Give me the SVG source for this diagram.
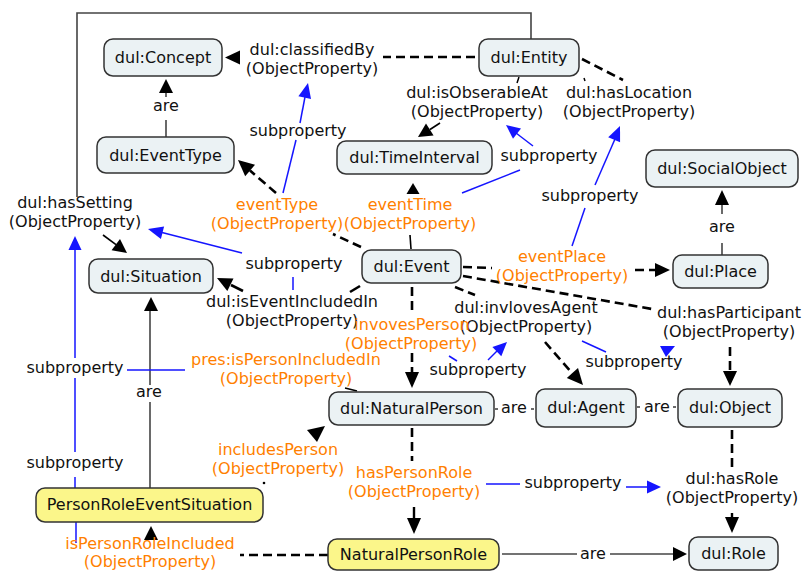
<svg xmlns="http://www.w3.org/2000/svg" width="803" height="571" viewBox="0 0 803 571">
<style>
text{font-family:"DejaVu Sans","Verdana",sans-serif;font-size:16px;fill:#111;text-anchor:middle}
.o{fill:#ff7f00}
.n rect{fill:#ebf2f4;stroke:#333;stroke-width:1.5}
.y rect{fill:#fbf68a;stroke:#333;stroke-width:1.5}
.d{stroke:#000;stroke-width:2.6;stroke-dasharray:9 5;fill:none}
.s{stroke:#444;stroke-width:1.6;fill:none}
.b{stroke:#1515ff;stroke-width:1.5;fill:none}
.ah{fill:#000}
.bh{fill:#1515ff}
</style>
<rect width="803" height="571" fill="#fff"/>
<g id="connectors">
<polyline class="s" points="531,39 531,13 77,13 77,197"/>
<line class="d" x1="475" y1="57" x2="383" y2="57"/>
<polygon class="ah" points="225,57.5 240,50.5 240,64.5"/>
<line class="d" x1="519" y1="77" x2="517" y2="83" style="stroke-dasharray:none;stroke-width:1.5"/>
<line class="d" x1="582" y1="59" x2="623" y2="80"/>
<line class="d" x1="584" y1="78" x2="585" y2="81" style="stroke-dasharray:none;stroke-width:1.5"/>
<line class="s" x1="440" y1="123" x2="430" y2="129.5" style="stroke:#000"/>
<polygon class="ah" points="418,137 433.6,135.4 426,123.6"/>
<line class="d" x1="276" y1="193" x2="250" y2="170.5"/>
<polygon class="ah" points="238,160 255,164.8 245.2,176.2"/>
<line class="d" x1="361" y1="247" x2="333" y2="234"/>
<line class="s" x1="411" y1="249" x2="410" y2="235" style="stroke:#000"/>
<polygon class="ah" points="413,183 406.5,194 419.5,194"/>
<line class="d" x1="360" y1="286" x2="350" y2="292" style="stroke-dasharray:none"/>
<line class="d" x1="243" y1="291" x2="231" y2="285" style="stroke-dasharray:none"/>
<polygon class="ah" points="217,278 233.5,278.4 227.3,290.9"/>
<line class="s" x1="103" y1="235" x2="116" y2="244.6" style="stroke:#000"/>
<polygon class="ah" points="127,253 111.6,250.2 120,239"/>
<line class="d" x1="463" y1="267" x2="492" y2="268"/>
<line class="d" x1="635" y1="270" x2="656" y2="270"/>
<polygon class="ah" points="670,270 655,263 655,277"/>
<line class="d" x1="463" y1="276" x2="652" y2="309"/>
<line class="d" x1="730" y1="347" x2="730" y2="372"/>
<polygon class="ah" points="730,386 723,371 737,371"/>
<line class="d" x1="455" y1="287" x2="475" y2="295"/>
<line class="d" x1="545" y1="342" x2="572" y2="373"/>
<polygon class="ah" points="583,385 566.8,378 578,368"/>
<line class="d" x1="412" y1="287" x2="412" y2="313"/>
<line class="d" x1="412" y1="353" x2="412" y2="373"/>
<polygon class="ah" points="412,388 405,372 419,372"/>
<line class="s" x1="345" y1="388" x2="357" y2="391" style="stroke:#000"/>
<polygon class="ah" points="325,426 307,430 317,442"/>
<circle cx="264" cy="483" r="1.3" fill="#000"/>
<line class="d" x1="412" y1="428" x2="412" y2="461"/>
<line class="s" x1="414" y1="507" x2="414" y2="519" style="stroke:#000;stroke-width:2.4"/>
<polygon class="ah" points="414,534 407,518 421,518"/>
<line class="d" x1="732" y1="430" x2="732" y2="470"/>
<line class="s" x1="732" y1="513" x2="732" y2="518" style="stroke:#000;stroke-width:2.4"/>
<polygon class="ah" points="732,533 725,517 739,517"/>
<line class="d" x1="328" y1="555" x2="240" y2="555"/>
<polygon class="ah" points="151,526 144,540 158,540"/>
<line class="s" x1="166" y1="137" x2="166" y2="120"/>
<line class="s" x1="166" y1="93" x2="166" y2="97"/>
<polygon class="ah" points="166,79 159,93 173,93"/>
<line class="s" x1="722" y1="255" x2="722" y2="243"/>
<line class="s" x1="722" y1="205" x2="722" y2="214"/>
<polygon class="ah" points="722,190 715,205 729,205"/>
<line class="s" x1="150" y1="488" x2="150" y2="402"/>
<line class="s" x1="150" y1="385" x2="150" y2="310"/>
<polygon class="ah" points="151,297 144,311 158,311"/>
<line class="s" x1="502" y1="554" x2="577" y2="554"/>
<line class="s" x1="610" y1="554" x2="674" y2="554"/>
<polygon class="ah" points="687,554 673,547 673,561"/>
<line class="s" x1="495" y1="409" x2="498" y2="409"/>
<line class="s" x1="531" y1="409" x2="534" y2="409"/>
<line class="s" x1="637" y1="407" x2="640" y2="407"/>
<line class="s" x1="673" y1="407" x2="676" y2="407"/>
<line class="b" x1="283" y1="193" x2="296" y2="140"/>
<line class="b" x1="300" y1="123" x2="305" y2="97"/>
<polygon class="bh" points="308,83 311,99.1 298.4,96.2"/>
<line class="b" x1="462" y1="193" x2="520" y2="170"/>
<line class="b" x1="533" y1="146" x2="516" y2="133"/>
<polygon class="bh" points="506,125 521,128.5 513,138.7"/>
<line class="b" x1="572" y1="246" x2="585" y2="208"/>
<line class="b" x1="595" y1="185" x2="615" y2="139"/>
<polygon class="bh" points="620,126 620.1,142.3 608.2,137.3"/>
<line class="b" x1="293" y1="290" x2="293" y2="277"/>
<line class="b" x1="242" y1="253" x2="162" y2="232.5"/>
<polygon class="bh" points="148,229 164.1,226.4 160.9,239"/>
<line class="b" x1="76" y1="543" x2="76" y2="522"/>
<line class="b" x1="75" y1="488" x2="75" y2="477"/>
<line class="b" x1="75" y1="452" x2="75" y2="378"/>
<line class="b" x1="75" y1="358" x2="75" y2="250"/>
<polygon class="bh" points="75,236 68.5,250 81.5,250"/>
<line class="b" x1="185" y1="370" x2="127" y2="370"/>
<line class="b" x1="449" y1="356" x2="457" y2="361"/>
<line class="b" x1="488" y1="360" x2="497" y2="351"/>
<polygon class="bh" points="507,342 501.3,356.3 492.4,346.9"/>
<line class="b" x1="582" y1="341" x2="606" y2="352"/>
<polygon class="bh" points="660,346 675,346 666,357"/>
<line class="b" x1="486" y1="484" x2="520" y2="484"/>
<line class="b" x1="626" y1="487" x2="648" y2="487"/>
<polygon class="bh" points="661,487 647,480.5 647,493.5"/>
</g>
<g id="labels">
<text x="312" y="55">dul:classifiedBy</text><text x="312" y="74">(ObjectProperty)</text>
<text x="477" y="98">dul:isObserableAt</text><text x="477" y="117">(ObjectProperty)</text>
<text x="629" y="98">dul:hasLocation</text><text x="629" y="117">(ObjectProperty)</text>
<text x="298" y="136">subproperty</text>
<text x="549" y="161">subproperty</text>
<text x="590" y="201">subproperty</text>
<text x="166" y="111">are</text>
<text x="722" y="232">are</text>
<text x="75" y="208">dul:hasSetting</text><text x="75" y="227">(ObjectProperty)</text>
<text class="o" x="277" y="210">eventType</text><text class="o" x="277" y="229">(ObjectProperty)</text>
<text class="o" x="410" y="210">eventTime</text><text class="o" x="410" y="229">(ObjectProperty)</text>
<text x="294" y="269">subproperty</text>
<text x="292" y="307">dul:isEventIncludedIn</text><text x="292" y="326">(ObjectProperty)</text>
<text class="o" x="562" y="262">eventPlace</text><text class="o" x="562" y="281">(ObjectProperty)</text>
<text x="526" y="313">dul:invlovesAgent</text><text x="526" y="332">(ObjectProperty)</text>
<text x="729" y="318">dul:hasParticipant</text><text x="729" y="337">(ObjectProperty)</text>
<text class="o" x="412" y="330">invovesPerson</text><text class="o" x="411" y="349">(ObjectProperty)</text>
<text class="o" x="286" y="365">pres:isPersonIncludedIn</text><text class="o" x="286" y="384">(ObjectProperty)</text>
<text x="75" y="373">subproperty</text>
<text x="149" y="397">are</text>
<text x="478" y="375">subproperty</text>
<text x="634" y="367">subproperty</text>
<text x="514" y="413">are</text>
<text x="657" y="412">are</text>
<text x="75" y="468">subproperty</text>
<text class="o" x="278" y="455">includesPerson</text><text class="o" x="278" y="474">(ObjectProperty)</text>
<text class="o" x="414" y="478">hasPersonRole</text><text class="o" x="414" y="497">(ObjectProperty)</text>
<text x="573" y="488">subproperty</text>
<text x="732" y="484">dul:hasRole</text><text x="732" y="503">(ObjectProperty)</text>
<text class="o" x="150" y="549">isPersonRoleIncluded</text><text class="o" x="150" y="567">(ObjectProperty)</text>
<text x="593" y="559">are</text>
</g>
<g id="concept" class="n"><rect x="104" y="39" width="118" height="37" rx="9"/><text x="163" y="63">dul:Concept</text></g>
<g id="entity" class="n"><rect x="479" y="39" width="100" height="37" rx="9"/><text x="529" y="63">dul:Entity</text></g>
<g id="eventtype" class="n"><rect x="97" y="137" width="137" height="36" rx="9"/><text x="165.5" y="161">dul:EventType</text></g>
<g id="timeinterval" class="n"><rect x="337" y="141" width="155" height="33" rx="9"/><text x="414.5" y="163">dul:TimeInterval</text></g>
<g id="socialobject" class="n"><rect x="646" y="150" width="152" height="37" rx="9"/><text x="722" y="174">dul:SocialObject</text></g>
<g id="situation" class="n"><rect x="89" y="259" width="124" height="34" rx="9"/><text x="151" y="282">dul:Situation</text></g>
<g id="event" class="n"><rect x="362" y="250" width="99" height="33" rx="9"/><text x="411.5" y="272">dul:Event</text></g>
<g id="place" class="n"><rect x="673" y="255" width="95" height="33" rx="9"/><text x="720.5" y="277">dul:Place</text></g>
<g id="naturalperson" class="n"><rect x="329" y="392" width="165" height="33" rx="9"/><text x="411.5" y="414">dul:NaturalPerson</text></g>
<g id="agent" class="n"><rect x="536" y="389" width="100" height="38" rx="9"/><text x="586" y="413">dul:Agent</text></g>
<g id="object" class="n"><rect x="678" y="389" width="104" height="38" rx="9"/><text x="730" y="413">dul:Object</text></g>
<g id="pres" class="y"><rect x="36" y="488" width="227" height="34" rx="9"/><text x="149.5" y="510">PersonRoleEventSituation</text></g>
<g id="npr" class="y"><rect x="328" y="539" width="171" height="31" rx="9"/><text x="413.5" y="560">NaturalPersonRole</text></g>
<g id="role" class="n"><rect x="689" y="537" width="89" height="33" rx="9"/><text x="733.5" y="559">dul:Role</text></g>
</svg>
